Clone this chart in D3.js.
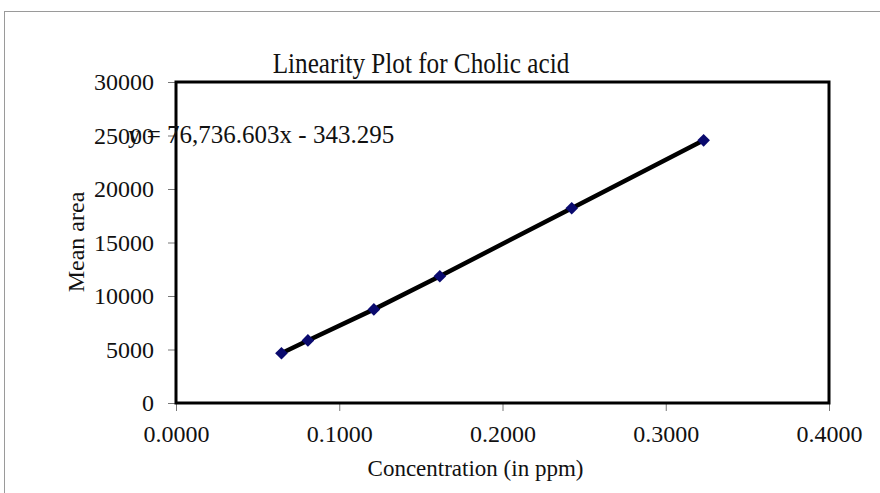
<!DOCTYPE html>
<html>
<head>
<meta charset="utf-8">
<script src="https://cdn.jsdelivr.net/npm/d3@7"></script>
<style>
  body { margin: 0; background: #fff; }
  text { font-family: "Liberation Serif", "Times New Roman", serif; fill: #111; }
</style>
</head>
<body>
<div id="chart"></div>
<script>
// data
var concentration = [0.0646, 0.0808, 0.1212, 0.1616, 0.2424, 0.3232];
var meanArea = [4650, 5850, 8750, 11850, 18200, 24550];
var xTicks = [0, 0.1, 0.2, 0.3, 0.4];
var yTicks = [0, 5000, 10000, 15000, 20000, 25000, 30000];
var equation = "y = 76,736.603x - 343.295";

linearityplot();

function linearityplot() {
	var svg = d3.select("#chart")
		.append("svg")
		.attr("width", 880)
		.attr("height", 493);

	var margin = {top: 82, right: 51, bottom: 90, left: 176},
		width = 880 - margin.left - margin.right,
		height = 493 - margin.top - margin.bottom;

	// outer frame of the chart object
	svg.append("rect")
		.attr("x", 4.5).attr("y", 11.5)
		.attr("width", 1000).attr("height", 1000)
		.style("fill", "none")
		.style("stroke", "#9a9a9a")
		.style("stroke-width", 1);

	var g = svg.append("g").attr("transform", "translate(" + margin.left + "," + margin.top + ")");

	var data = concentration.map(function(c, i) { return {x: c, y: meanArea[i]}; });

	var xScale = d3.scaleLinear().domain([0, 0.4]).range([0, width]),
		yScale = d3.scaleLinear().domain([0, 30000]).range([height, 0]);

	var xAxis = d3.axisBottom(xScale)
		.tickValues(xTicks)
		.tickFormat(d3.format(".4f"))
		.tickSizeInner(8).tickSizeOuter(0).tickPadding(14);

	var yAxis = d3.axisLeft(yScale)
		.tickValues(yTicks)
		.tickFormat(d3.format("d"))
		.tickSizeInner(8).tickSizeOuter(0).tickPadding(14);

	// x-axis
	var gx = g.append("g")
		.attr("class", "x axis")
		.attr("transform", "translate(0," + height + ")")
		.call(xAxis);

	// y-axis
	var gy = g.append("g")
		.attr("class", "y axis")
		.call(yAxis);

	[gx, gy].forEach(function(a) {
		a.select(".domain").remove();
		a.selectAll(".tick line").style("stroke", "#777").style("stroke-width", 1);
		a.selectAll(".tick text")
			.style("font-family", "'Liberation Serif', serif")
			.style("font-size", "24px")
			.style("fill", "#111");
	});

	// plot area border
	g.append("rect")
		.attr("width", width)
		.attr("height", height)
		.style("fill", "none")
		.style("stroke", "#000")
		.style("stroke-width", 3);

	// line
	var line = d3.line()
		.x(function(d) { return xScale(d.x); })
		.y(function(d) { return yScale(d.y); });

	g.append("path")
		.datum(data)
		.attr("d", line)
		.style("fill", "none")
		.style("stroke", "#000")
		.style("stroke-width", 4.5);

	// diamond markers
	g.selectAll(".dot")
		.data(data).enter()
		.append("path")
		.attr("class", "dot")
		.attr("d", d3.symbol().type(d3.symbolSquare).size(80))
		.attr("transform", function(d) {
			return "translate(" + xScale(d.x) + "," + yScale(d.y) + ") rotate(45)";
		})
		.style("fill", "#0a0a6e");

	// title (source font is a bit condensed)
	svg.append("text")
		.attr("transform", "translate(421,73) scale(0.84,1)")
		.style("text-anchor", "middle")
		.style("font-size", "30px")
		.text("Linearity Plot for Cholic acid");

	// x-axis label
	svg.append("text")
		.attr("x", margin.left + width / 2 - 27)
		.attr("y", 476)
		.style("text-anchor", "middle")
		.style("font-size", "23px")
		.text("Concentration (in ppm)");

	// y-axis label
	svg.append("text")
		.attr("transform", "translate(84," + 242 + ") rotate(-90)")
		.style("text-anchor", "middle")
		.style("font-size", "24px")
		.text("Mean area");

	// regression equation
	svg.append("text")
		.attr("x", 128)
		.attr("y", 143)
		.style("font-size", "25px")
		.text(equation);
}
</script>
</body>
</html>
